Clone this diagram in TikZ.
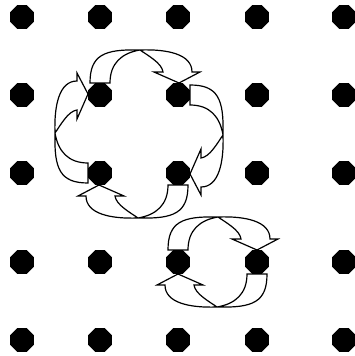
\documentclass[tikz,border=0pt]{standalone}
\usetikzlibrary{shapes.geometric}
\tikzset{
  dot/.style={regular polygon, regular polygon sides=8, fill=black, draw=none,
              minimum size=25.5pt, inner sep=0pt},
  ribbon/.style={draw=black, line width=1.2pt, line join=miter},
  twistarrow/.pic={
    \draw[ribbon] (-10,12) .. controls (-10,40) and (4,46) .. (40,45)
       .. controls (67,46) and (92,41) .. (92,23)
       -- (100,23) -- (79,12) -- (54,23) -- (63,23)
       .. controls (62,32) and (47,40) .. (40,45)
       .. controls (22,42) and (10,32) .. (10,12) -- cycle;
  }
}
\begin{document}
\begin{tikzpicture}[x=1pt, y=1pt]
  \useasboundingbox (0,0) rectangle (354,356);
  \foreach \px [count=\i] in {22,100,178,257,344} {
    \foreach \py [count=\j] in {339,261,183,94,16} {
      \node[dot] (d\i\j) at (\px,\py) {};
    }
  }
  % big clockwise cycle
  \pic at (d22) {twistarrow};
  \pic[rotate=-90] at (d32) {twistarrow};
  \pic[rotate=180] at (d33) {twistarrow};
  \pic[rotate=90] at (d23) {twistarrow};
  % small cycle
  \pic at (d34) {twistarrow};
  \pic[rotate=180] at (d44) {twistarrow};
\end{tikzpicture}
\end{document}
